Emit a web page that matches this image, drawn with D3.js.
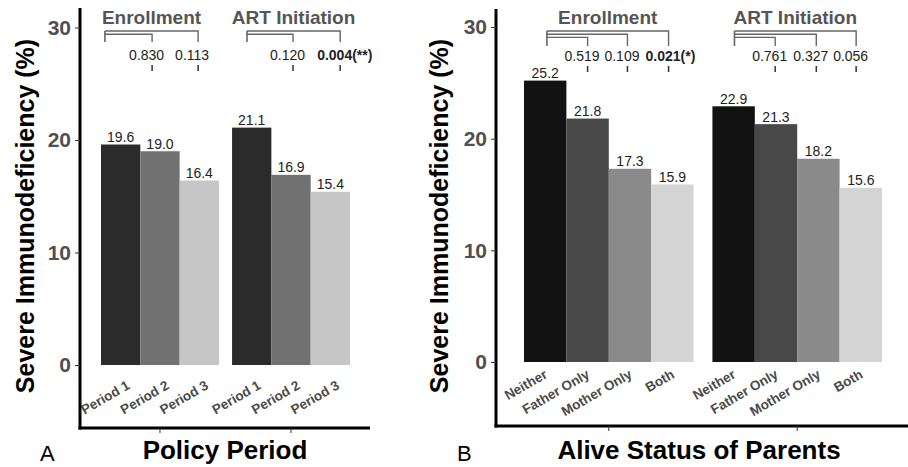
<!DOCTYPE html>
<html>
<head>
<meta charset="utf-8">
<script src="https://cdn.jsdelivr.net/npm/d3@7"></script>
<style>
  body { margin: 0; background: #fff; }
  svg { display: block; font-family: "Liberation Sans", Arial, sans-serif; }
</style>
</head>
<body>
<svg id="chart" width="908" height="467"></svg>
<script>
// ---- data ----
const outcomes = ['Enrollment', 'ART Initiation'];
const yTicks = [0, 10, 20, 30];

const periodCats = ['Period 1', 'Period 2', 'Period 3'];
const periodValues = [[19.6, 19.0, 16.4], [21.1, 16.9, 15.4]];
const periodPvals = [[0.830, 0.113], [0.120, 0.004]];
const periodColors = ['#2b2b2b', '#717171', '#c6c6c6'];
// bracket anchor points, in bar slots from the first bar of each group
const periodBrackets = [[-0.4, 0.8, 1.97], [-0.12, 1.05, 2.25]];

const parentCats = ['Neither', 'Father Only', 'Mother Only', 'Both'];
const parentValues = [[25.2, 21.8, 17.3, 15.9], [22.9, 21.3, 18.2, 15.6]];
const parentPvals = [[0.519, 0.109, 0.021], [0.761, 0.327, 0.056]];
const parentColors = ['#121212', '#484848', '#8a8a8a', '#d4d4d4'];
const parentBrackets = [[0.04, 1.0, 1.94, 2.91], [0.02, 0.98, 1.95, 2.89]];

const svg = d3.select('#chart');

function stars(p) { return p < 0.01 ? '(**)' : p < 0.05 ? '(*)' : ''; }

function drawPanel(o) {
    const g = svg.append('g');

    const y = d3.scaleLinear().domain([0, 30]).range([o.y0, o.y30]);
    const xGroup = d3.scaleBand().domain(outcomes).range(o.xRange).paddingInner(o.gap);
    const xBar = d3.scaleBand().domain(o.cats).range([0, xGroup.bandwidth()]);
    const slot = (gi, u) => xGroup(outcomes[gi]) + xBar.step() * (u + 0.5);

    //bars
    const groups = g.selectAll('g.grp')
        .data(o.values)
        .enter()
        .append('g')
        .attr('transform', (d, i) => 'translate(' + xGroup(outcomes[i]) + ',0)');

    groups.selectAll('rect')
        .data(d => d)
        .enter()
        .append('rect')
        .attr('x', (d, i) => xBar(o.cats[i]))
        .attr('width', xBar.bandwidth())
        .attr('y', d => y(d))
        .attr('height', d => y(0) - y(d))
        .attr('fill', (d, i) => o.colors[i]);

    //value labels
    groups.selectAll('text.val')
        .data(d => d)
        .enter()
        .append('text')
        .attr('x', (d, i) => xBar(o.cats[i]) + xBar.bandwidth() / 2)
        .attr('y', d => y(d) - 2.5)
        .attr('text-anchor', 'middle')
        .attr('font-size', '14px')
        .attr('fill', '#222')
        .text(d => d.toFixed(1));

    //category labels, rotated
    groups.selectAll('text.cat')
        .data(o.cats)
        .enter()
        .append('text')
        .attr('transform', d => 'translate(' + (xBar(d) + xBar.bandwidth() / 2 + o.labDx) + ',' + (y(0) + o.labDy) + ') rotate(-30)')
        .attr('text-anchor', 'end')
        .attr('font-size', '13.5px')
        .attr('font-weight', 'bold')
        .attr('fill', '#4a4a4a')
        .text(d => d);

    //y axis
    g.append('line')
        .attr('x1', o.axisX).attr('x2', o.axisX)
        .attr('y1', o.axisTop).attr('y2', o.axisBottom + 1.5)
        .attr('stroke', '#000').attr('stroke-width', 3);

    const yAxis = g.append('g')
        .attr('transform', 'translate(' + o.axisX + ',0)')
        .call(d3.axisLeft(y).tickValues(yTicks).tickSize(5).tickPadding(4));
    yAxis.select('.domain').remove();
    yAxis.selectAll('.tick line').attr('stroke', '#333');
    yAxis.selectAll('.tick text')
        .attr('font-size', '21px')
        .attr('font-weight', 'bold')
        .attr('font-family', '"Liberation Sans", Arial, sans-serif')
        .attr('fill', '#505050');

    //x axis
    g.append('line')
        .attr('x1', o.axisX - 1.5).attr('x2', o.axisRight)
        .attr('y1', o.axisBottom).attr('y2', o.axisBottom)
        .attr('stroke', '#000').attr('stroke-width', 3);

    g.selectAll('line.gtick')
        .data(outcomes)
        .enter()
        .append('line')
        .attr('x1', d => xGroup(d) + xGroup.bandwidth() / 2)
        .attr('x2', d => xGroup(d) + xGroup.bandwidth() / 2)
        .attr('y1', o.axisBottom)
        .attr('y2', o.axisBottom + 5)
        .attr('stroke', '#333');

    //brackets with p values
    outcomes.forEach((name, gi) => {
        const pts = o.brackets[gi].map(u => slot(gi, u));
        const left = pts[0];
        const ends = pts.slice(1);
        const n = ends.length;
        const b = g.append('g');

        b.append('text')
            .attr('x', (left + ends[n - 1]) / 2)
            .attr('y', 24)
            .attr('text-anchor', 'middle')
            .attr('font-size', '19px')
            .attr('font-weight', 'bold')
            .attr('fill', '#555')
            .text(name);

        b.append('line')
            .attr('x1', left).attr('x2', left)
            .attr('y1', 31).attr('y2', o.brBottom)
            .attr('stroke', '#666').attr('stroke-width', 1.6);

        ends.forEach((xe, k) => {
            const yl = 31 + (n - 1 - k) * 3.2;
            b.append('path')
                .attr('d', 'M' + left + ',' + yl + 'H' + xe + 'V' + o.brBottom)
                .attr('fill', 'none')
                .attr('stroke', '#666')
                .attr('stroke-width', 1.4);

            b.append('line')
                .attr('x1', xe).attr('x2', xe)
                .attr('y1', o.dashY).attr('y2', o.dashY + 6)
                .attr('stroke', '#333').attr('stroke-width', 1.5);

            const p = o.pvals[gi][k];
            b.append('text')
                .attr('x', xe - 23)
                .attr('y', o.pY)
                .attr('font-size', '14px')
                .attr('font-family', '"Liberation Sans Narrow", "Arial Narrow", "Liberation Sans", sans-serif')
                .attr('font-weight', p < 0.05 ? 'bold' : 'normal')
                .attr('fill', '#222')
                .text(p.toFixed(3) + stars(p));
        });
    });

    //titles
    g.append('text')
        .attr('transform', 'translate(' + o.yTitleX + ',216) rotate(-90)')
        .attr('text-anchor', 'middle')
        .attr('font-size', '25px')
        .attr('font-weight', 'bold')
        .attr('fill', '#000')
        .text('Severe Immunodeficiency (%)');

    g.append('text')
        .attr('x', o.xTitleX)
        .attr('y', 459)
        .attr('text-anchor', 'middle')
        .attr('font-size', '26px')
        .attr('font-weight', 'bold')
        .attr('fill', '#000')
        .text(o.xTitle);

    g.append('text')
        .attr('x', o.letterX)
        .attr('y', 461)
        .attr('font-size', '22px')
        .attr('fill', '#000')
        .text(o.letter);
}

drawPanel({
    cats: periodCats, values: periodValues, pvals: periodPvals, colors: periodColors,
    brackets: periodBrackets,
    y0: 365, y30: 27.5, xRange: [101, 350], gap: 0.1,
    axisX: 80, axisTop: 8, axisBottom: 428, axisRight: 370,
    labDx: 10, labDy: 23, brBottom: 42, dashY: 65, pY: 60,
    yTitleX: 34, xTitleX: 225, xTitle: 'Policy Period', letterX: 40, letter: 'A'
});

drawPanel({
    cats: parentCats, values: parentValues, pvals: parentPvals, colors: parentColors,
    brackets: parentBrackets,
    y0: 362, y30: 27, xRange: [524, 882], gap: 0.1,
    axisX: 496, axisTop: 9, axisBottom: 426, axisRight: 908,
    labDx: 3, labDy: 15, brBottom: 46, dashY: 66, pY: 61,
    yTitleX: 448, xTitleX: 699, xTitle: 'Alive Status of Parents', letterX: 457, letter: 'B'
});
</script>
</body>
</html>
